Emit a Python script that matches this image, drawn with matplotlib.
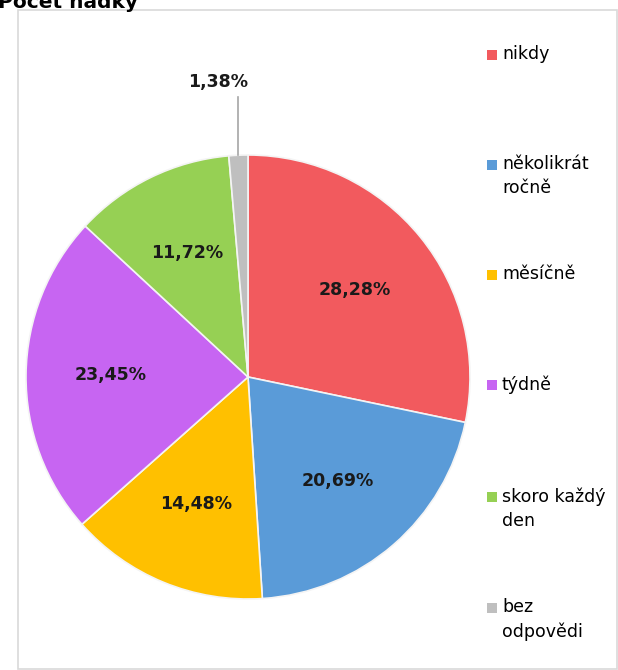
import matplotlib.pyplot as plt
from matplotlib.patches import Rectangle
import numpy as np

title = "Počet hádky"
categories = ["nikdy", "několikrát\nročně", "měsíčně", "týdně", "skoro každý\nden", "bez\nodpovědi"]
values = [28.28, 20.69, 14.48, 23.45, 11.72, 1.38]
colors = ["#F25A5E", "#5A9BD8", "#FFC000", "#C765F2", "#96D054", "#BFBFBF"]

W, H = 618, 670
fig = plt.figure(figsize=(W / 100, H / 100), dpi=100)
ax = fig.add_axes([0, 0, 1, 1])

cx, cy, R = 248, H - 377, 222

wedges, _ = ax.pie(values, colors=colors, startangle=90, counterclock=False,
                   center=(cx, cy), radius=R,
                   wedgeprops=dict(edgecolor="#f4f4f4", linewidth=1.2))

ax.set_xlim(0, W)
ax.set_ylim(0, H)
ax.set_aspect("equal")
ax.axis("off")

# chart frame
ax.add_patch(Rectangle((18, 1), W - 19, H - 11, fill=False, edgecolor="#d9d9d9", linewidth=1.2))

# title (cut off at the top like the original)
ax.text(-2, H - 8, title, fontsize=14.5, fontweight="bold", ha="left", va="baseline", color="black")

def fmt(v):
    return f"{v:.2f}".replace(".", ",") + "%"

for w, v in zip(wedges, values):
    mid = np.deg2rad((w.theta1 + w.theta2) / 2)
    if v < 3:
        ex, ey = cx + R * np.cos(mid), cy + R * np.sin(mid)
        ax.plot([ex, ex], [ey, H - 97], color="#a6a6a6", linewidth=1.2)
        ax.text(ex - 20, H - 82, fmt(v), fontsize=12.5, fontweight="bold",
                ha="center", va="center", color="#1a1a1a")
    else:
        r = 0.62 * R
        ax.text(cx + r * np.cos(mid), cy + r * np.sin(mid), fmt(v), fontsize=12.5,
                fontweight="bold", ha="center", va="center", color="#1a1a1a")

# legend
leg_y = [55, 165, 275, 385, 497, 608]
for name, col, y in zip(categories, colors, leg_y):
    ax.add_patch(Rectangle((487, H - y - 5), 10, 10, facecolor=col, edgecolor="none"))
    ax.text(502, H - y + 10, name, fontsize=12.5, ha="left", va="top",
            color="black", linespacing=1.45)

fig.savefig("out.png", dpi=100)
